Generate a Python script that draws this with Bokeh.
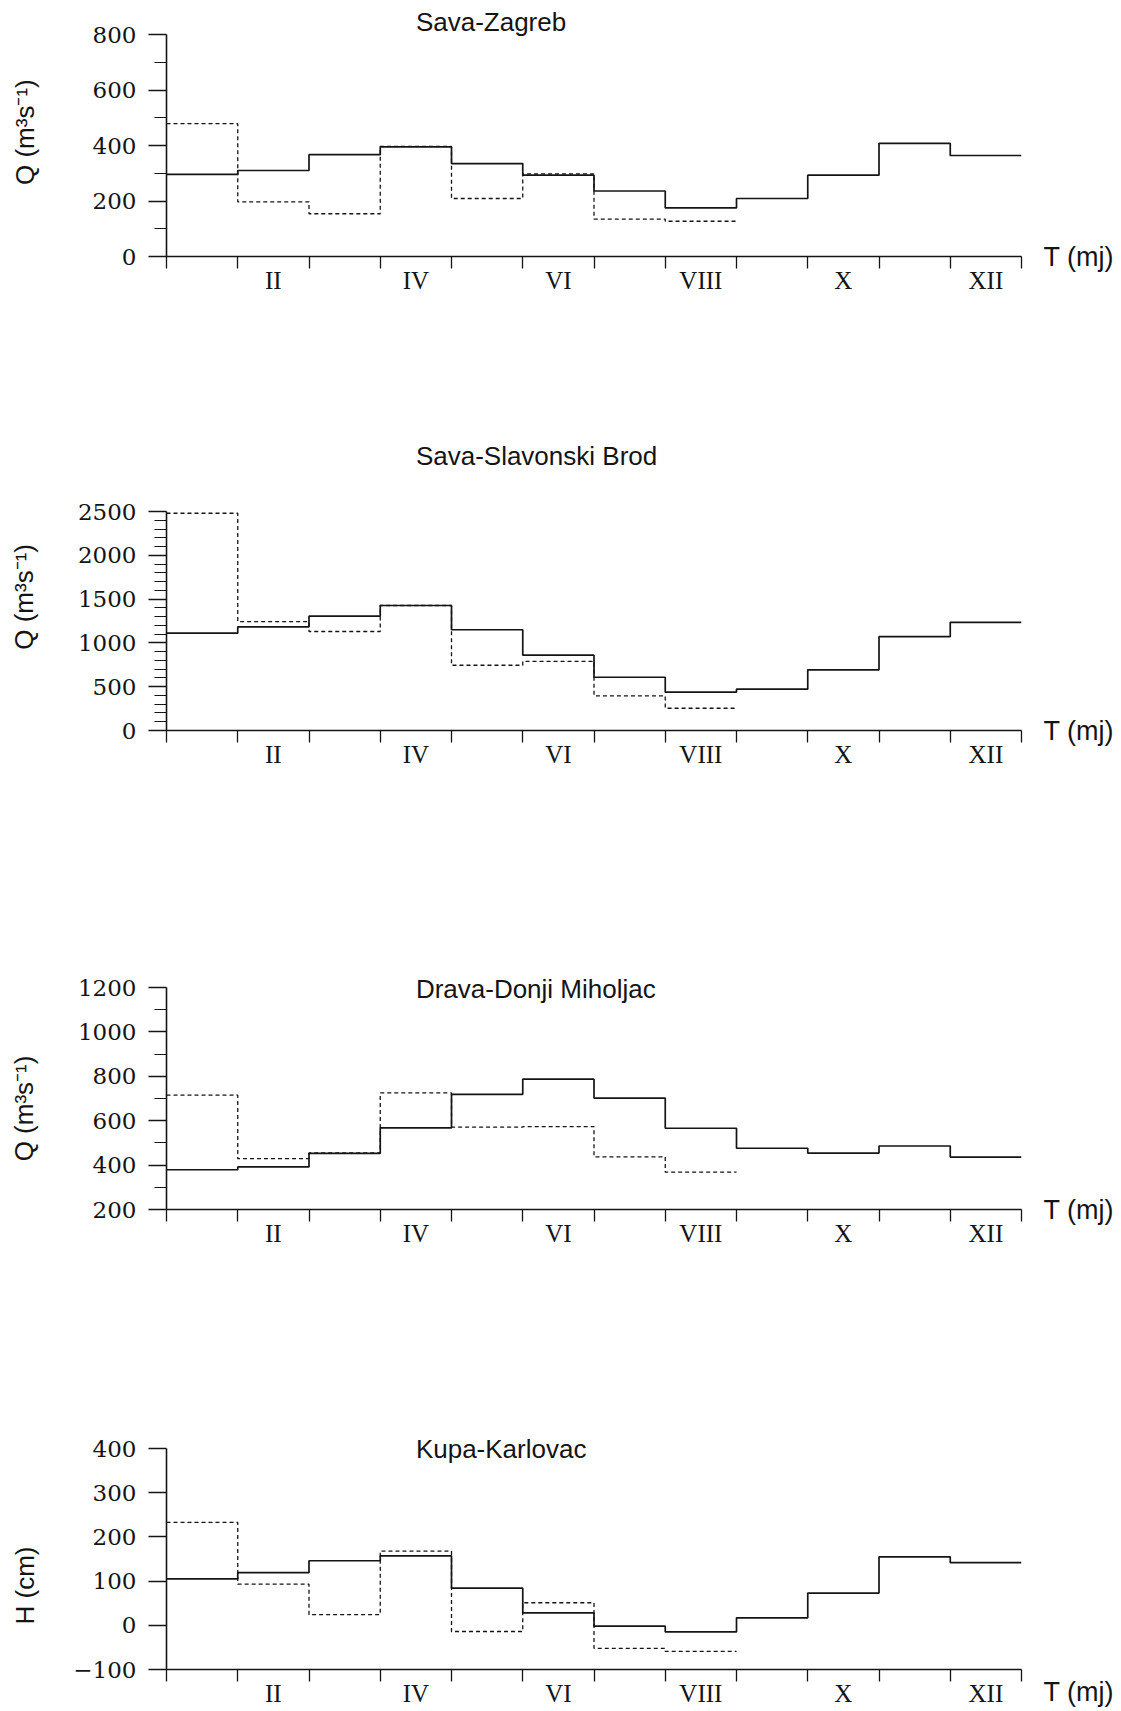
import math
from bokeh.plotting import figure
from bokeh.models import Range1d, FixedTicker, Label, LinearAxis
from bokeh.layouts import column
from bokeh.embed import file_html
from bokeh.resources import INLINE

# ---------------- data ----------------
months = ["I", "II", "III", "IV", "V", "VI", "VII", "VIII", "IX", "X", "XI", "XII"]
month_edges = list(range(13))

titles = ["Sava-Zagreb", "Sava-Slavonski Brod", "Drava-Donji Miholjac", "Kupa-Karlovac"]
ylabels = ["Q (m³s⁻¹)", "Q (m³s⁻¹)", "Q (m³s⁻¹)", "H (cm)"]
xlabel = "T (mj)"

zagreb_solid = [296, 310, 367, 395, 335, 293, 236, 175, 209, 293, 408, 364]
zagreb_dashed = [479, 197, 154, 397, 209, 298, 135, 127]

brod_solid = [1111, 1183, 1305, 1427, 1150, 860, 608, 437, 472, 693, 1071, 1235]
brod_dashed = [2480, 1243, 1130, 1427, 745, 790, 395, 254]

drava_solid = [379, 392, 453, 568, 719, 787, 702, 566, 476, 454, 486, 436]
drava_dashed = [715, 429, 455, 725, 571, 573, 437, 368]

kupa_solid = [105, 119, 146, 157, 84, 28, -2, -15, 17, 73, 155, 142]
kupa_dashed = [233, 93, 24, 168, -14, 51, -52, -59]

zagreb_yticks = [0, 200, 400, 600, 800]
zagreb_yminor = [100, 300, 500, 700]
brod_yticks = [0, 500, 1000, 1500, 2000, 2500]
brod_yminor = [v for v in range(100, 2500, 100) if v % 500 != 0]
drava_yticks = [200, 400, 600, 800, 1000, 1200]
drava_yminor = [300, 500, 700, 900, 1100]
kupa_yticks = [-100, 0, 100, 200, 300, 400]
kupa_yminor = []

NUM_FONT = "DejaVu Serif"
ROMAN_FONT = "Liberation Serif"
SANS = "Liberation Sans"
INK = "#141414"


def make_panel(title, ylabel, solid, dashed, yticks, yminor, height, top, bottom,
               axis_px, ext_px, title_dy, ylabel_frac, ylabel_standoff,
               xstandoff, tlabel, t_line_height=1.2):
    ymin, ymax = yticks[0], yticks[-1]
    units_per_px = (ymax - ymin) / axis_px
    p = figure(width=1121, height=height,
               x_range=Range1d(0, 12),
               y_range=Range1d(ymin, ymax + ext_px * units_per_px),
               output_backend="svg", toolbar_location=None,
               min_border_left=166, min_border_right=100,
               min_border_top=top, min_border_bottom=bottom)
    p.outline_line_color = None
    p.grid.visible = False
    p.background_fill_color = "white"
    p.border_fill_color = "white"

    # step series
    p.step(x=month_edges, y=solid + [solid[-1]], mode="after",
           line_color=INK, line_width=1.7)
    nd = len(dashed)
    p.step(x=month_edges[:nd + 1], y=dashed + [dashed[-1]], mode="after",
           line_color=INK, line_width=1.3, line_dash="4 3")

    # x axis: month boundaries as ticks, even-month numerals centered
    xa = p.xaxis[0]
    centers = [i + 0.5 for i in range(1, 12, 2)]
    xa.ticker = FixedTicker(ticks=centers, minor_ticks=month_edges)
    xa.major_label_overrides = {i + 0.5: months[i] for i in range(1, 12, 2)}
    xa.major_tick_line_color = None
    xa.major_tick_out = 0
    xa.major_tick_in = 0
    xa.minor_tick_in = 0
    xa.minor_tick_out = 12
    xa.minor_tick_line_color = INK
    xa.minor_tick_line_width = 1.3
    xa.axis_line_color = INK
    xa.axis_line_width = 1.6
    xa.major_label_standoff = xstandoff
    xa.major_label_text_font = ROMAN_FONT
    xa.major_label_text_font_size = "25px"
    xa.major_label_text_color = INK

    # y axis
    ya = p.yaxis[0]
    ya.bounds = (ymin, ymax)
    ya.ticker = FixedTicker(ticks=yticks, minor_ticks=yminor)
    ya.major_label_overrides = {v: ("−" + str(-v) if v < 0 else str(v)) for v in yticks}
    ya.major_tick_in = 0
    ya.major_tick_out = 18
    ya.minor_tick_in = 0
    ya.minor_tick_out = 12
    ya.major_tick_line_color = INK
    ya.minor_tick_line_color = INK
    ya.major_tick_line_width = 1.3
    ya.minor_tick_line_width = 1.2
    ya.axis_line_color = INK
    ya.axis_line_width = 1.6
    ya.major_label_standoff = 12
    ya.major_label_text_font = NUM_FONT
    ya.major_label_text_font_size = "23px"
    ya.major_label_text_color = INK

    # y-axis title as a label-only outer axis (precise vertical placement)
    yv = ymin + ylabel_frac * (ymax - ymin)
    la = LinearAxis(ticker=FixedTicker(ticks=[yv]),
                    major_label_overrides={yv: ylabel},
                    major_label_orientation="vertical",
                    axis_line_color=None, major_tick_line_color=None,
                    minor_tick_line_color=None, major_tick_out=0, major_tick_in=0,
                    minor_tick_out=0, minor_tick_in=0,
                    major_label_standoff=ylabel_standoff,
                    major_label_text_font=SANS, major_label_text_font_size="26px",
                    major_label_text_color=INK)
    p.add_layout(la, "left")

    # "T (mj)" as a label-only axis on the right, at the baseline
    ra = LinearAxis(ticker=FixedTicker(ticks=[ymin]),
                    major_label_overrides={ymin: tlabel},
                    axis_line_color=None, major_tick_line_color=None,
                    minor_tick_line_color=None, major_tick_out=0, major_tick_in=0,
                    minor_tick_out=0, minor_tick_in=0,
                    major_label_standoff=22,
                    major_label_text_font=SANS, major_label_text_font_size="27px",
                    major_label_text_line_height=t_line_height,
                    major_label_text_color=INK)
    p.add_layout(ra, "right")

    # panel title inside the (extended) frame
    p.add_layout(Label(x=3.5, y=ymax, y_offset=title_dy, text=title,
                       text_align="left", text_baseline="middle",
                       text_font=SANS, text_font_size="26px", text_color=INK))
    return p


p1 = make_panel(titles[0], ylabels[0], zagreb_solid, zagreb_dashed,
                zagreb_yticks, zagreb_yminor, 385, 0, 129, 222, 34, 13,
                0.56, 49, -2, xlabel)
p2 = make_panel(titles[1], ylabels[1], brod_solid, brod_dashed,
                brod_yticks, brod_yminor, 475, 54, 130, 219, 72, 56,
                0.61, 35, -2, xlabel)
p3 = make_panel(titles[2], ylabels[2], drava_solid, drava_dashed,
                drava_yticks, drava_yminor, 475, 111, 126, 222, 16, -1,
                0.455, 35, -2, xlabel)
p4 = make_panel(titles[3], ylabels[3], kupa_solid, kupa_dashed,
                kupa_yticks, kupa_yminor, 375, 97, 41, 221, 16, 0,
                0.38, 30, -2, "\n" + xlabel, 2.0)

layout = column(p1, p2, p3, p4)
open("out.html", "w").write(file_html(layout, INLINE))
